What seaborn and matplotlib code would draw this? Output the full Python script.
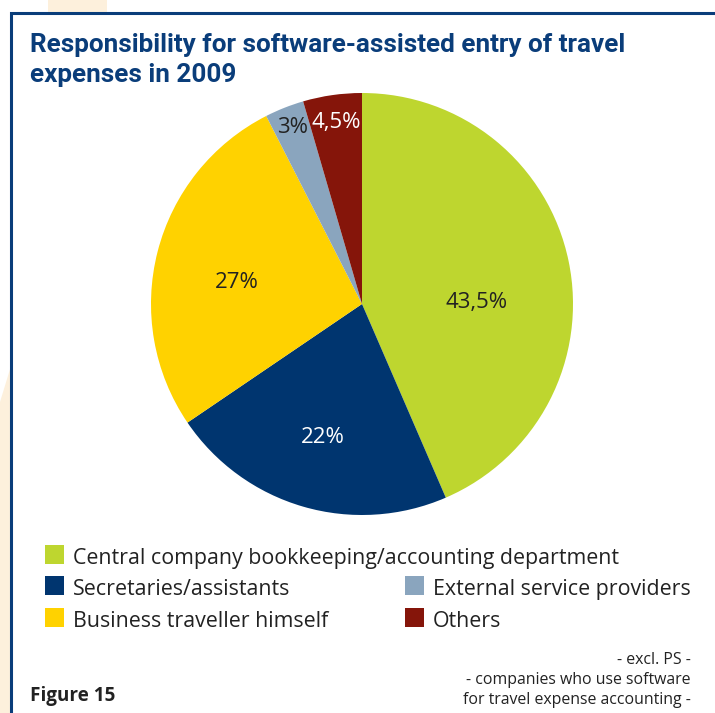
import matplotlib
matplotlib.use("Agg")
import matplotlib.pyplot as plt
from matplotlib.patches import Rectangle, Polygon
import numpy as np
import seaborn as sns

# data
categories = [
    "Central company bookkeeping/accounting department",
    "Secretaries/assistants",
    "Business traveller himself",
    "External service providers",
    "Others",
]
shares = [43.5, 22, 27, 3, 4.5]
share_labels = ["43,5%", "22%", "27%", "3%", "4,5%"]

palette = ["#BED62F", "#00356F", "#FFD200", "#8AA5BE", "#85150A"]
label_colors = ["#222222", "white", "#222222", "#222222", "white"]
label_radius = [0.545, 0.66, 0.60, 0.90, 0.87]
label_shift = [-11.2, 0.0, 4.8, 0.0, 0.0]

sns.set_theme(style="white")
plt.rcParams["font.family"] = ["Open Sans", "DejaVu Sans"]

W, H = 715, 713
fig = plt.figure(figsize=(W / 100, H / 100), dpi=100)
fig.patch.set_facecolor("white")

def fx(px):
    return px / W

def fy(py):
    return 1 - py / H

# pale decorative shapes behind the frame
bg = fig.add_axes([0, 0, 1, 1], zorder=0)
bg.set_xlim(0, W)
bg.set_ylim(H, 0)
bg.axis("off")
bg.add_patch(Rectangle((48, 0), 59, 20, color="#FDF0DC", lw=0))
bg.add_patch(Polygon([(0, 402), (11, 366), (11, 713), (0, 713)], closed=True,
                     color="#FDF0DC", lw=0))
bg.add_patch(Rectangle((11, 13), 720, 720, facecolor="white",
                       edgecolor="#0A3D7A", lw=2.2))

# pie
cx, cy, r = 362, 304, 211
ax = fig.add_axes([fx(cx - r), fy(cy + r), 2 * r / W, 2 * r / H], zorder=1)
wedges, _ = ax.pie(shares, colors=palette, startangle=90, counterclock=False,
                   radius=1.0, wedgeprops=dict(linewidth=0))
ax.set_xlim(-1, 1)
ax.set_ylim(-1, 1)
ax.set_aspect("equal")
ax.axis("off")

for w, lab, col, rad, sh in zip(wedges, share_labels, label_colors,
                                label_radius, label_shift):
    ang = np.deg2rad((w.theta1 + w.theta2) / 2 + sh)
    ax.text(rad * np.cos(ang), rad * np.sin(ang), lab, ha="center", va="center",
            color=col, fontsize=16)

# title
title_font = ["Roboto", "DejaVu Sans"]
fig.text(fx(30), fy(52), "Responsibility for software-assisted entry of travel",
         fontsize=18.8, fontweight="bold", color="#0A3D7A", va="baseline",
         family=title_font)
fig.text(fx(30), fy(82), "expenses in 2009",
         fontsize=18.8, fontweight="bold", color="#0A3D7A", va="baseline",
         family=title_font)

# legend: square top-left corner, text starts 9px right of the square
legend_pos = [(45, 545), (45, 576), (45, 608), (405, 576), (405, 608)]
sq = 19
for (lx, ly), name, col in zip(legend_pos, categories, palette):
    bg.add_patch(Rectangle((lx, ly), sq, sq, color=col, lw=0))
    fig.text(fx(lx + sq + 9), fy(ly + sq), name, fontsize=15.4,
             color="#222222", va="baseline", ha="left")

# notes
fig.text(fx(30), fy(701), "Figure 15", fontsize=13.6, fontweight="bold",
         color="#222222", va="baseline")
notes = ["- excl. PS -", "- companies who use software",
         "for travel expense accounting -"]
for i, t in enumerate(notes):
    fig.text(fx(691), fy(664 + 20 * i), t, fontsize=11.4, color="#222222",
             va="baseline", ha="right")

fig.savefig("out.png", dpi=100)
